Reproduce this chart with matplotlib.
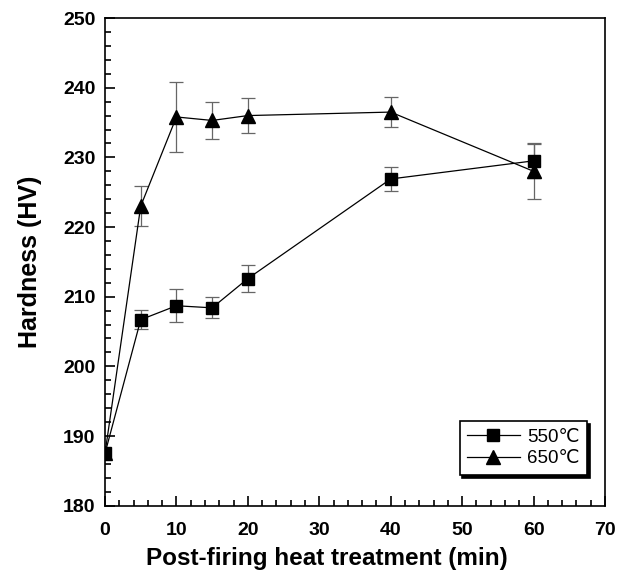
# Hardness vs post-firing heat treatment time

import matplotlib
matplotlib.use("Agg")
import matplotlib.pyplot as plt
from matplotlib.ticker import MultipleLocator

plt.rcParams['font.family'] = ['Liberation Sans', 'DejaVu Sans']

time_min = [0, 5, 10, 15, 20, 40, 60]

hv_550 = [187.5, 206.7, 208.7, 208.4, 212.6, 226.9, 229.5]
err_550 = [0.0, 1.4, 2.4, 1.5, 1.9, 1.7, 2.4]

hv_650 = [187.5, 223.0, 235.8, 235.3, 236.0, 236.5, 228.0]
err_650 = [0.0, 2.9, 5.0, 2.6, 2.5, 2.1, 4.0]

fig = plt.figure(figsize=(6.25, 5.71), dpi=100)
ax = fig.add_axes([0.168, 0.1144, 0.8, 0.854])

# error bars (thin, grey)
ax.errorbar(time_min[1:], hv_550[1:], yerr=err_550[1:], fmt='none',
            ecolor='#666666', elinewidth=0.9, capsize=5, capthick=0.9, zorder=1)
ax.errorbar(time_min[1:], hv_650[1:], yerr=err_650[1:], fmt='none',
            ecolor='#666666', elinewidth=0.9, capsize=5, capthick=0.9, zorder=1)

ax.plot(time_min, hv_550, color='black', lw=0.9, marker='s', ms=9,
        mfc='black', mec='black', label='550\u2103', zorder=3)
ax.plot(time_min, hv_650, color='black', lw=0.9, marker='^', ms=10,
        mfc='black', mec='black', label='650\u2103', zorder=3)

ax.set_xlim(0, 70)
ax.set_ylim(180, 250)
ax.xaxis.set_major_locator(MultipleLocator(10))
ax.xaxis.set_minor_locator(MultipleLocator(2))
ax.yaxis.set_major_locator(MultipleLocator(10))
ax.yaxis.set_minor_locator(MultipleLocator(2))

ax.tick_params(which='both', direction='in', top=False, right=False, width=1.2)
ax.tick_params(which='major', length=7, labelsize=14)
ax.tick_params(axis='x', which='major', pad=12)
ax.tick_params(axis='y', which='major', pad=7)
ax.tick_params(which='minor', length=4)
for lab in ax.get_xticklabels() + ax.get_yticklabels():
    lab.set_fontweight('bold')

for sp in ax.spines.values():
    sp.set_linewidth(1.2)

ax.set_xlabel('Post-firing heat treatment (min)', fontsize=17.5, fontweight='bold')
ax.xaxis.set_label_coords(0.444, -0.085)
ax.set_ylabel('Hardness (HV)', fontsize=18, fontweight='bold')
ax.yaxis.set_label_coords(-0.127, 0.5)

leg = ax.legend(loc='lower right', bbox_to_anchor=(0.964, 0.063),
                borderaxespad=0, fontsize=13.5, frameon=True, fancybox=False,
                shadow={'color': 'black', 'alpha': 1.0},
                edgecolor='black', handlelength=2.8, borderpad=0.4,
                labelspacing=0.25, handletextpad=0.4)
leg.get_frame().set_linewidth(1.2)

fig.savefig('out.png', dpi=100)
